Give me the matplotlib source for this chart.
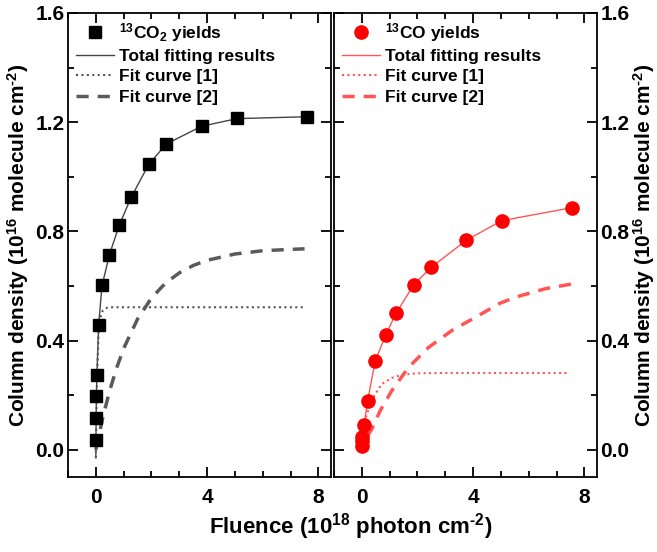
import matplotlib
matplotlib.use("Agg")
import matplotlib.pyplot as plt
from matplotlib.ticker import MultipleLocator

plt.rcParams['font.family'] = ['Liberation Sans', 'DejaVu Sans']
plt.rcParams['font.weight'] = 'bold'
plt.rcParams['mathtext.fontset'] = 'custom'
plt.rcParams['mathtext.rm'] = 'Liberation Sans:bold'
plt.rcParams['mathtext.bf'] = 'Liberation Sans:bold'
plt.rcParams['mathtext.default'] = 'bf'

# 13CO2 panel (left)
co2_x = [0.0, 0.01, 0.02, 0.04, 0.1, 0.22, 0.49, 0.85, 1.27, 1.9, 2.53, 3.8, 5.07, 7.6]
co2_y = [0.036, 0.116, 0.198, 0.275, 0.456, 0.603, 0.713, 0.825, 0.925, 1.046, 1.12, 1.185, 1.215, 1.218]
co2_total_x = [0.0, 0.01, 0.02, 0.04, 0.1, 0.22, 0.49, 0.85, 1.27, 1.9, 2.53, 3.8, 5.07, 7.6]
co2_total_y = [-0.03, 0.11, 0.2, 0.28, 0.455, 0.6, 0.715, 0.825, 0.925, 1.045, 1.12, 1.185, 1.213, 1.22]
co2_fit1_x = [0.0, 0.02, 0.05, 0.1, 0.15, 0.25, 0.4, 0.6, 1.0, 7.5]
co2_fit1_y = [-0.03, 0.12, 0.28, 0.43, 0.48, 0.51, 0.52, 0.522, 0.522, 0.522]
co2_fit2_x = [0.0, 0.25, 0.5, 0.75, 1.0, 1.5, 2.0, 2.5, 3.0, 3.5, 4.0, 5.0, 6.0, 7.0, 7.5]
co2_fit2_y = [0.0, 0.118, 0.217, 0.300, 0.371, 0.479, 0.556, 0.610, 0.648, 0.675, 0.694, 0.717, 0.729, 0.734, 0.736]

# 13CO panel (right)
co_x = [0.0, 0.01, 0.02, 0.08, 0.21, 0.48, 0.86, 1.23, 1.87, 2.49, 3.75, 5.02, 7.56]
co_y = [0.012, 0.033, 0.048, 0.09, 0.18, 0.325, 0.421, 0.50, 0.605, 0.668, 0.767, 0.839, 0.887]
co_total_x = [0.0, 0.01, 0.02, 0.08, 0.21, 0.48, 0.86, 1.23, 1.87, 2.49, 3.75, 5.02, 7.56]
co_total_y = [0.0, 0.033, 0.05, 0.09, 0.18, 0.325, 0.421, 0.50, 0.605, 0.668, 0.767, 0.839, 0.887]
co_fit1_x = [0.05, 0.15, 0.3, 0.48, 0.72, 1.08, 1.44, 2.0, 3.0, 7.45]
co_fit1_y = [0.08, 0.12, 0.165, 0.204, 0.241, 0.263, 0.275, 0.28, 0.281, 0.281]
co_fit2_x = [0.2, 0.36, 0.66, 1.08, 1.68, 2.4, 3.24, 4.08, 4.93, 5.52, 6.6, 7.59]
co_fit2_y = [0.05, 0.076, 0.143, 0.217, 0.302, 0.375, 0.437, 0.485, 0.535, 0.559, 0.59, 0.608]

ylabel = r'Column density (10$^{16}$ molecule cm$^{\text{-}2}$)'

fig = plt.figure(figsize=(6.57, 5.52), dpi=100)
ax1 = fig.add_axes([68 / 657, 1 - 477 / 552, 263 / 657, 464 / 552])
ax2 = fig.add_axes([334 / 657, 1 - 477 / 552, 263 / 657, 464 / 552])

ax1.plot(co2_x, co2_y, 's', color='black', markersize=8, label=r'$^{13}$CO$_2$ yields', zorder=5)
ax1.plot(co2_total_x, co2_total_y, '-', color='#444444', lw=1, label='Total fitting results')
ax1.plot(co2_fit1_x, co2_fit1_y, color='#555555', lw=1.5, linestyle=(0, (1, 1.6)), label='Fit curve [1]')
ax1.plot(co2_fit2_x, co2_fit2_y, color='#5a5a5a', lw=2.5, linestyle=(0, (3.5, 2.6)), label='Fit curve [2]')

ax2.plot(co_x, co_y, 'o', color='#ff0000', markersize=9.5, label=r'$^{13}$CO yields', zorder=5)
ax2.plot(co_total_x, co_total_y, '-', color='#ff5555', lw=1, label='Total fitting results')
ax2.plot(co_fit1_x, co_fit1_y, color='#ff5555', lw=1.5, linestyle=(0, (1, 1.6)), label='Fit curve [1]')
ax2.plot(co_fit2_x, co_fit2_y, color='#ff5555', lw=2.5, linestyle=(0, (3.5, 2.6)), label='Fit curve [2]')

for ax in (ax1, ax2):
    ax.set_xlim(-1, 8.45)
    ax.set_ylim(-0.1, 1.6)
    ax.xaxis.set_major_locator(MultipleLocator(4))
    ax.xaxis.set_minor_locator(MultipleLocator(1))
    ax.yaxis.set_major_locator(MultipleLocator(0.4))
    ax.yaxis.set_minor_locator(MultipleLocator(0.2))
    ax.tick_params(which='both', direction='in', top=True, bottom=True, left=True, right=True,
                   width=1.3, labelsize=15)
    ax.tick_params(which='major', length=7.5)
    ax.tick_params(which='minor', length=4)
    ax.tick_params(axis='x', pad=8)
    ax.tick_params(axis='y', pad=2.5)
    for s in ax.spines.values():
        s.set_linewidth(1.3)
    ax.set_yticklabels([f'{v:.1f}' for v in ax.get_yticks()])
    ax.legend(loc='upper left', frameon=False, fontsize=12.5, handlelength=2.2,
              handletextpad=0.3, labelspacing=0.3, borderaxespad=0.05)

ax1.set_ylabel(ylabel, fontsize=15, fontweight='bold')
ax1.yaxis.set_label_coords((31 - 68) / 263, 0.5)
ax2.yaxis.tick_right()
ax2.tick_params(which='both', left=True, right=True, labelleft=False, labelright=True)
ax2.yaxis.set_label_position('right')
ax2.set_ylabel(ylabel, fontsize=15, fontweight='bold')
ax2.yaxis.set_label_coords((631 - 334) / 263, 0.5)

fig.text(351 / 657, 1 - 527 / 552, r'Fluence (10$^{18}$ photon cm$^{\text{-}2}$)',
         ha='center', va='center', fontsize=16, fontweight='bold')

fig.savefig('out.png', dpi=100)
